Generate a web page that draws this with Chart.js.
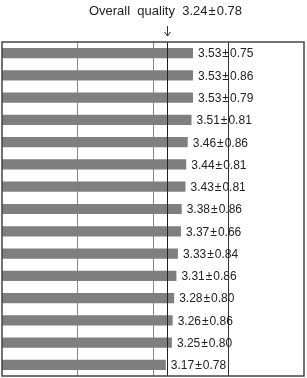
<!DOCTYPE html>
<html>
<head>
<meta charset="utf-8">
<script src="https://cdn.jsdelivr.net/npm/chart.js@4"></script>
<style>
html,body{margin:0;padding:0;background:#fff;}
#wrap{width:307px;height:378px;position:relative;}
</style>
</head>
<body>
<div id="wrap"><canvas id="c"></canvas></div>
<script>
// data
const ITEMS=['1','2','3','4','5','6','7','8','9','10','11','12','13','14','15'];
const MEANS=[3.53,3.53,3.53,3.51,3.46,3.44,3.43,3.38,3.37,3.33,3.31,3.28,3.26,3.25,3.17];
const SDS=[0.75,0.86,0.79,0.81,0.86,0.81,0.81,0.86,0.66,0.84,0.86,0.80,0.86,0.80,0.78];
const OVERALL_MEAN=3.24,OVERALL_SD=0.78;
const OVERALL_LINE=3.19; // where the reference line actually sits on the axis
const X_MIN=1,X_MAX=5;

const FONT='"Liberation Sans",Arial,sans-serif';
const PM='\u200a\u00b1\u200a';

const decor={
  id:'decor',
  afterDatasetsDraw(chart){
    const {ctx,chartArea:a,scales:{x}}=chart;
    const meta=chart.getDatasetMeta(0);
    ctx.save();
    // overall line
    const ox=Math.round(x.getPixelForValue(OVERALL_LINE))+0.5;
    ctx.strokeStyle='#222';ctx.lineWidth=1;
    ctx.beginPath();ctx.moveTo(ox,a.top);ctx.lineTo(ox,a.bottom);ctx.stroke();
    // frame
    ctx.strokeStyle='#444';ctx.lineWidth=1.5;
    ctx.strokeRect(a.left,a.top,a.right-a.left,a.bottom-a.top);
    // value labels
    ctx.font='12px '+FONT;ctx.fillStyle='#222';ctx.textBaseline='middle';ctx.textAlign='left';
    meta.data.forEach((b,i)=>{
      ctx.fillText(MEANS[i].toFixed(2)+PM+SDS[i].toFixed(2),b.x+5,b.y+1);
    });
    // title + arrow
    ctx.font='13px '+FONT;ctx.textAlign='center';ctx.fillStyle='#222';
    ctx.fillText('Overall  quality  '+OVERALL_MEAN.toFixed(2)+PM+OVERALL_SD.toFixed(2),ox-2,11);
    ctx.strokeStyle='#333';ctx.lineWidth=1;
    ctx.beginPath();ctx.moveTo(ox,26);ctx.lineTo(ox,36);
    ctx.moveTo(ox-3,32);ctx.lineTo(ox,36);ctx.lineTo(ox+3,32);ctx.stroke();
    ctx.restore();
  }
};

new Chart(document.getElementById('c'),{
  type:'bar',
  data:{labels:ITEMS,datasets:[{data:MEANS,backgroundColor:'#7f7f7f',borderWidth:0,barPercentage:0.46,categoryPercentage:1}]},
  options:{
    indexAxis:'y',responsive:true,maintainAspectRatio:false,animation:false,
    layout:{padding:{left:2,right:3,top:42,bottom:2}},
    plugins:{legend:{display:false},tooltip:{enabled:false}},
    scales:{
      x:{min:X_MIN,max:X_MAX,display:true,border:{display:false},
        ticks:{display:false,stepSize:1},
        grid:{drawTicks:false,lineWidth:1,color:c=>c.tick.value===4?'#333':(c.tick.value===X_MIN||c.tick.value===X_MAX?'rgba(0,0,0,0)':'#888')}},
      y:{display:false}
    }
  },
  plugins:[decor]
});
</script>
</body>
</html>
